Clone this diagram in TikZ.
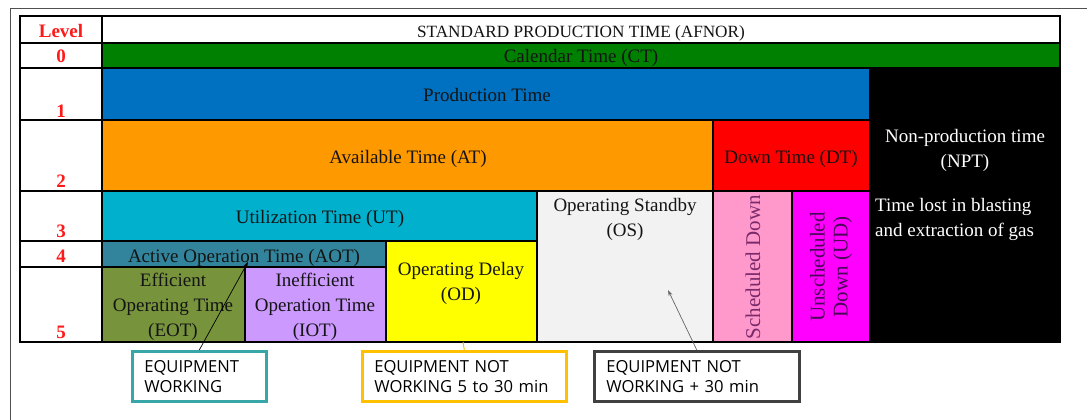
\documentclass[tikz,border=0pt]{standalone}
\usepackage{fontspec}
\setmainfont{Liberation Serif}
\newfontfamily\calloutfont{Open Sans}
\usetikzlibrary{arrows.meta}

\definecolor{ctgreen}{HTML}{008000}
\definecolor{ptblue}{HTML}{0070C0}
\definecolor{atorange}{HTML}{FF9900}
\definecolor{dtred}{HTML}{FF0000}
\definecolor{utcyan}{HTML}{00B0CC}
\definecolor{aotteal}{HTML}{31849B}
\definecolor{eotolive}{HTML}{77933C}
\definecolor{iotlilac}{HTML}{CC99FF}
\definecolor{odyellow}{HTML}{FFFF00}
\definecolor{osgray}{HTML}{F2F2F2}
\definecolor{sdpink}{HTML}{FF99CC}
\definecolor{udmagenta}{HTML}{FF00FF}
\definecolor{levelred}{HTML}{FF1A1A}
\definecolor{inktext}{HTML}{141414}
\definecolor{sdtext}{HTML}{7A2A6A}
\definecolor{udtext}{HTML}{4A0858}
\definecolor{boxteal}{HTML}{38A6A6}
\definecolor{boxamber}{HTML}{FFC000}
\definecolor{boxgray}{HTML}{404040}
\definecolor{framegray}{HTML}{505050}

\tikzset{
  cell/.style={draw=black, line width=1.6pt},
  label/.style={font=\fontsize{19}{25}\selectfont, text=inktext, inner sep=0pt, align=center},
  rotlabel/.style={label, rotate=90, font=\fontsize{21}{23}\selectfont},
  lvl/.style={font=\fontsize{19}{25}\selectfont\bfseries, text=levelred, inner sep=0pt, anchor=base},
  callout/.style={draw=#1, line width=2.6pt, fill=white, anchor=north west,
    minimum height=50pt, inner xsep=12pt, inner ysep=0pt, align=left,
    font=\calloutfont\fontsize{16.6}{20}\selectfont, text=black},
  pointer/.style={line width=0.7pt, -{Stealth[length=6pt,width=4pt]}},
}

\begin{document}
\begin{tikzpicture}[x=1pt,y=-1pt]
\useasboundingbox (0,0) rectangle (1087,420);

% page frame
\draw[framegray, line width=1.2pt] (10.5,420) -- (10.5,8.5) -- (1087,8.5);

% level column
\path[cell, fill=white] (20,16) rectangle (102,43);
\path[cell, fill=white] (20,43) rectangle (102,68);
\path[cell, fill=white] (20,68) rectangle (102,120);
\path[cell, fill=white] (20,120) rectangle (102,191);
\path[cell, fill=white] (20,191) rectangle (102,241);
\path[cell, fill=white] (20,241) rectangle (102,267);
\path[cell, fill=white] (20,267) rectangle (102,342);

% time categories
\path[cell, fill=white]     (102,16)  rectangle (1060,43);
\path[cell, fill=ctgreen]   (102,43)  rectangle (1060,68);
\path[cell, fill=ptblue]    (102,68)  rectangle (870,120);
\path[cell, fill=black]     (870,68)  rectangle (1060,342);
\path[cell, fill=atorange]  (102,120) rectangle (713,191);
\path[cell, fill=dtred]     (713,120) rectangle (870,191);
\path[cell, fill=utcyan]    (102,191) rectangle (537,241);
\path[cell, fill=osgray]    (537,191) rectangle (713,342);
\path[cell, fill=sdpink]    (713,191) rectangle (792,342);
\path[cell, fill=udmagenta] (792,191) rectangle (870,342);
\path[cell, fill=aotteal]   (102,241) rectangle (386,267);
\path[cell, fill=eotolive]  (102,267) rectangle (245,342);
\path[cell, fill=iotlilac]  (245,267) rectangle (386,342);
\path[cell, fill=odyellow]  (386,241) rectangle (537,342);

% table outline
\draw[black, line width=2.4pt] (20,16) rectangle (1060,342);

% level numbers
\node[lvl] (lvlhead) at (61,38)  {Level};
\node[lvl] (lvl0)    at (61,63)  {0};
\node[lvl] (lvl1)    at (61,117) {1};
\node[lvl] (lvl2)    at (61,187) {2};
\node[lvl] (lvl3)    at (61,237) {3};
\node[lvl] (lvl4)    at (61,262) {4};
\node[lvl] (lvl5)    at (61,338) {5};

% category labels
\node[label, anchor=base, font=\fontsize{17.2}{20}\selectfont] (title) at (581,38) {STANDARD PRODUCTION TIME (AFNOR)};
\node[label, anchor=base] (ct)    at (581,63)  {Calendar Time (CT)};
\node[label, anchor=base] (pt)    at (487,102) {Production Time};
\node[label, anchor=base] (at)    at (408,163) {Available Time (AT)};
\node[label, anchor=base] (dt)    at (791,163) {Down Time (DT)};
\node[label, anchor=base] (ut)    at (320,223) {Utilization Time (UT)};
\node[label, anchor=base] (aot)   at (244,262) {Active Operation Time (AOT)};
\node[label, text=white] (npt) at (965,150) {Non-production time\\(NPT)};
\node[label, text=white, align=left, anchor=west] (lost) at (875,219) {Time lost in blasting\\and extraction of gas};
\node[label] (os)  at (625,219) {Operating Standby\\(OS)};
\node[label] (od)  at (461,283) {Operating Delay\\(OD)};
\node[label] (eot) at (173,307) {Efficient\\Operating Time\\(EOT)};
\node[label] (iot) at (315,307) {Inefficient\\Operation Time\\(IOT)};
\node[rotlabel, text=sdtext] (sd) at (753,267) {Scheduled Down};
\node[rotlabel, text=udtext] (ud) at (831,267) {Unscheduled\\Down (UD)};

% equipment state callouts
\node[callout=boxteal, text width=110pt]  (working)  at (131,350) {EQUIPMENT\\WORKING};
\node[callout=boxamber, text width=180pt] (delay)    at (361,350) {EQUIPMENT NOT\\WORKING 5 to 30 min};
\node[callout=boxgray, text width=181pt]  (standby)  at (593,350) {EQUIPMENT NOT\\WORKING + 30 min};

\coordinate (aotpoint) at (248,262);
\coordinate (odedge)   at (463,342);
\coordinate (ospoint)  at (668,290);

\draw[pointer, black] (working.north) -- (aotpoint);
\draw[boxamber, line width=1pt] (delay.north) -- (odedge);
\draw[pointer, boxgray!80] (standby.north) -- (ospoint);
\end{tikzpicture}
\end{document}
